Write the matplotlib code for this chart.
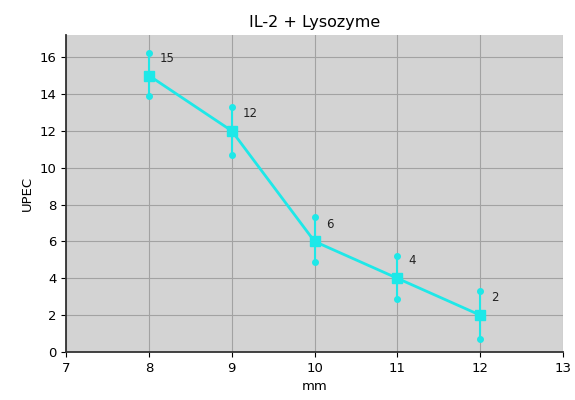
import matplotlib
matplotlib.use("Agg")
import matplotlib.pyplot as plt

mm = [8, 9, 10, 11, 12]
upec = [15, 12, 6, 4, 2]
upper = [16.2, 13.3, 7.3, 5.2, 3.3]
lower = [13.9, 10.7, 4.9, 2.9, 0.7]
labels = ["15", "12", "6", "4", "2"]

fig = plt.figure(figsize=(5.75, 4), dpi=100)
ax = fig.add_axes([0.115, 0.12, 0.864, 0.7925])
ax.set_facecolor("lightgray")
ax.grid(True, color="#a2a2a2", linewidth=0.8)
ax.set_axisbelow(True)

cyan = "#1ee8e8"
for x, lo, hi in zip(mm, lower, upper):
    ax.plot([x, x], [lo, hi], color=cyan, linewidth=1.5, marker="o", markersize=4)
ax.plot(mm, upec, color=cyan, linewidth=2, marker="s", markersize=7)
for x, y, t in zip(mm, upec, labels):
    ax.annotate(t, (x, y), xytext=(8, 10), textcoords="offset points", fontsize=8.5, color="#222222")

ax.set_xlim(7, 13)
ax.set_ylim(0, 17.2)
ax.set_yticks([0, 2, 4, 6, 8, 10, 12, 14, 16])
ax.set_xticks([7, 8, 9, 10, 11, 12, 13])
ax.set_xlabel("mm", fontsize=9.5)
ax.set_ylabel("UPEC", fontsize=9.5)
ax.set_title("IL-2 + Lysozyme", fontsize=11.5)
for s in ["top", "right"]:
    ax.spines[s].set_visible(False)
for s in ["left", "bottom"]:
    ax.spines[s].set_linewidth(1.3)
    ax.spines[s].set_color("#333333")
ax.tick_params(labelsize=9.5)
fig.savefig("out.png", dpi=100)
